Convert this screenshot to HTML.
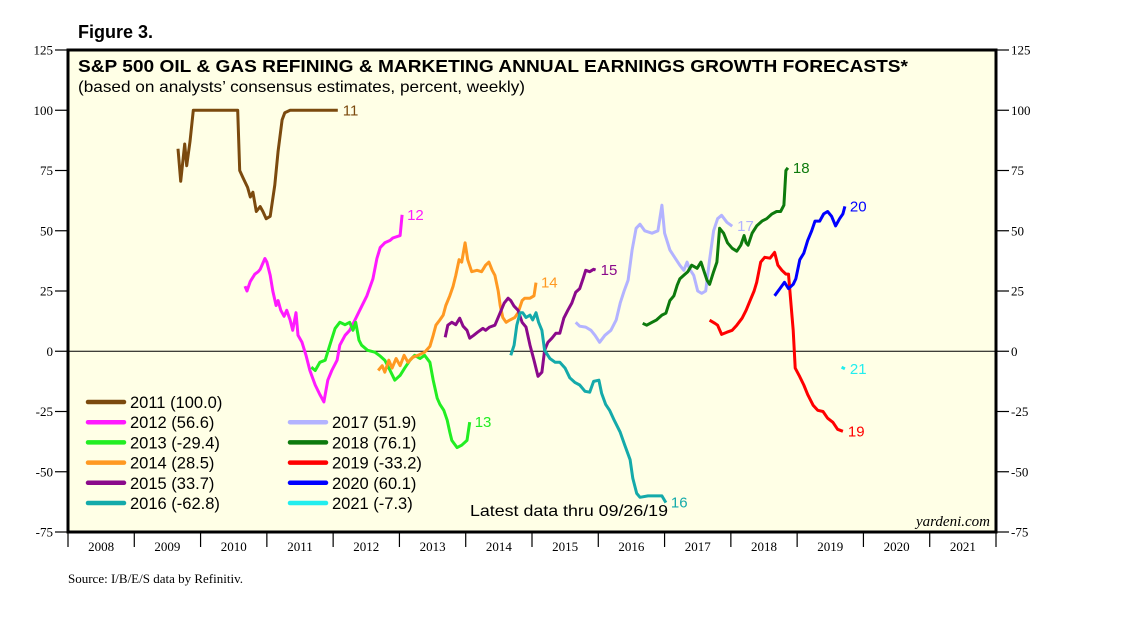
<!DOCTYPE html>
<html><head><meta charset="utf-8"><style>
body{margin:0;background:#fff;}
svg{display:block;font-family:"Liberation Sans",sans-serif;}
</style></head><body>
<svg id="c" width="1138" height="621" viewBox="0 0 1138 621">
<text x="78" y="38" font-size="18" font-weight="bold">Figure 3.</text>
<rect x="68" y="50" width="928" height="482" fill="#ffffe6" stroke="#000" stroke-width="3"/>
<text x="78" y="72" font-size="17.5" font-weight="bold" textLength="830" lengthAdjust="spacingAndGlyphs">S&amp;P 500 OIL &amp; GAS REFINING &amp; MARKETING ANNUAL EARNINGS GROWTH FORECASTS*</text>
<text x="78" y="92" font-size="16" textLength="447" lengthAdjust="spacingAndGlyphs">(based on analysts’ consensus estimates, percent, weekly)</text>
<g id="axes"></g>
<g id="series"></g>
<g id="legend"></g>
<text x="470" y="516" font-size="16" textLength="198" lengthAdjust="spacingAndGlyphs">Latest data thru 09/26/19</text>
<text x="990" y="526" font-size="15" font-style="italic" font-family="Liberation Serif,serif" text-anchor="end">yardeni.com</text>
<text x="68" y="583" font-size="13" font-family="Liberation Serif,serif">Source: I/B/E/S data by Refinitiv.</text>
</svg>
<script>
const yTicks=[125,100,75,50,25,0,-25,-50,-75];
const years=[2008,2009,2010,2011,2012,2013,2014,2015,2016,2017,2018,2019,2020,2021];
const names=["2011","2012","2013","2014","2015","2016","2017","2018","2019","2020","2021"];
const endLabels=["11","12","13","14","15","16","17","18","19","20","21"];
const finals=["100.0","56.6","-29.4","28.5","33.7","-62.8","51.9","76.1","-33.2","60.1","-7.3"];
const colors=["#7b4a0e","#ff1aff","#22ee22","#ff9922","#8b0a8b","#14aaaa","#b3b3ff","#0d7a0d","#ff0000","#0000ff","#22eeee"];
const t2011=[2009.66,2009.70,2009.76,2009.79,2009.84,2009.89,2010.56,2010.59,2010.64,2010.71,2010.75,2010.79,2010.84,2010.90,2010.94,2010.99,2011.05,2011.12,2011.17,2011.23,2011.27,2011.35,2012.07];
const v2011=[84,70.5,86,77,87,100,100,75,72,68,64,66,58,60,58,55,56,69,83,96,99,100,100];
const t2012=[2010.67,2010.70,2010.75,2010.82,2010.87,2010.90,2010.97,2011.00,2011.05,2011.09,2011.14,2011.17,2011.21,2011.26,2011.30,2011.35,2011.39,2011.44,2011.47,2011.53,2011.59,2011.65,2011.73,2011.80,2011.86,2011.92,2011.98,2012.06,2012.10,2012.18,2012.25,2012.33,2012.40,2012.51,2012.60,2012.66,2012.71,2012.78,2012.86,2012.90,2013.01,2013.04];
const v2012=[27,25,29,32,33,34,38.5,37,31.5,25,19,21,17,14.5,17,13,8.7,16,6.6,3.7,-1.7,-8,-14,-18,-21,-12,-8,-3.7,2.5,6.6,8.7,13,17,23,30,38.5,43,45,46,47,48,56.6];
const t2013=[2011.67,2011.73,2011.80,2011.88,2011.95,2012.03,2012.10,2012.18,2012.25,2012.30,2012.34,2012.39,2012.43,2012.52,2012.63,2012.71,2012.78,2012.86,2012.93,2013.01,2013.08,2013.16,2013.23,2013.31,2013.38,2013.46,2013.51,2013.57,2013.61,2013.67,2013.72,2013.76,2013.79,2013.87,2013.94,2014.02,2014.06];
const v2013=[-6.6,-8,-4.6,-3.7,2.5,9.5,12,11,12,8.7,12,4.6,2.5,0.4,-0.4,-2,-3.7,-8,-12,-10,-7,-3.7,-1.7,-3,-1.7,-4.6,-12,-19.5,-22,-24.5,-28.6,-33.6,-37,-40,-39,-37,-29.4];
const t2014=[2012.68,2012.74,2012.78,2012.84,2012.89,2012.95,2013.01,2013.07,2013.13,2013.20,2013.28,2013.38,2013.46,2013.51,2013.55,2013.61,2013.66,2013.70,2013.76,2013.81,2013.85,2013.90,2013.94,2013.99,2014.03,2014.09,2014.17,2014.24,2014.30,2014.35,2014.40,2014.44,2014.49,2014.52,2014.56,2014.61,2014.67,2014.74,2014.79,2014.85,2014.89,2014.97,2015.03,2015.06];
const v2014=[-8,-6,-8.7,-3.7,-7,-3,-6,-1.7,-4.6,-2.5,-1.7,-0.4,2,6.6,10.8,13,15,19,23,27,31.5,38,37,45,38,33,33.6,33,35.7,37,33.6,31.5,25,19,14,12,13,14,16,21,22,22,23,28.5];
const t2015=[2013.69,2013.73,2013.79,2013.85,2013.91,2013.96,2014.02,2014.06,2014.12,2014.18,2014.26,2014.30,2014.36,2014.44,2014.52,2014.58,2014.64,2014.68,2014.73,2014.79,2014.85,2014.91,2014.97,2015.03,2015.09,2015.15,2015.19,2015.24,2015.30,2015.36,2015.42,2015.48,2015.54,2015.60,2015.66,2015.72,2015.77,2015.81,2015.87,2015.93,2015.96];
const v2015=[5.8,10.8,12,11,13.7,10.4,8.7,5.4,6.6,7.9,9.5,8.7,10,10.8,16,20,22,21,18.7,17,12,10,2.5,-3.7,-10.4,-8.7,0.4,3.7,5.4,7.5,7.5,13.7,17,20,24.5,26,30,33.6,33,34,33.7];
const t2016=[2014.68,2014.73,2014.77,2014.82,2014.86,2014.91,2014.97,2015.01,2015.06,2015.10,2015.15,2015.19,2015.27,2015.35,2015.42,2015.50,2015.57,2015.65,2015.72,2015.80,2015.87,2015.93,2016.01,2016.05,2016.11,2016.17,2016.24,2016.33,2016.40,2016.48,2016.52,2016.58,2016.63,2016.75,2016.85,2016.96,2017.02];
const v2016=[-1.7,2.5,10.8,16,16,14,15,13,16,12,8.7,0.4,-3,-4.6,-4.6,-7,-11,-13,-14,-16.6,-17,-12.5,-12,-17.4,-22,-24.5,-28.6,-33.6,-39,-45,-52.7,-59,-60.6,-60,-60,-60,-62.8];
const t2017=[2015.66,2015.72,2015.81,2015.89,2015.95,2016.02,2016.10,2016.19,2016.27,2016.33,2016.39,2016.45,2016.51,2016.57,2016.63,2016.70,2016.81,2016.90,2016.96,2017.00,2017.08,2017.16,2017.23,2017.29,2017.34,2017.38,2017.44,2017.50,2017.56,2017.62,2017.68,2017.74,2017.80,2017.86,2017.94,2018.02];
const v2017=[12,10.4,10,8.7,6.6,3.7,6.6,8.7,13,20,25,29.5,42,51,52.7,50,49,50,60.6,49,42,38.6,35.7,33.6,37,34,31.5,25,24,25,38,50,55,56.4,53.5,51.9];
const t2018=[2016.67,2016.73,2016.81,2016.88,2016.96,2017.02,2017.08,2017.14,2017.19,2017.23,2017.29,2017.35,2017.41,2017.49,2017.55,2017.59,2017.64,2017.68,2017.74,2017.79,2017.83,2017.89,2017.95,2018.02,2018.09,2018.15,2018.20,2018.23,2018.26,2018.32,2018.39,2018.47,2018.54,2018.62,2018.69,2018.75,2018.80,2018.83,2018.86];
const v2018=[11.6,10.8,12,13,15,15.8,21,23,27.4,30,31.5,33,35.7,34.4,37,33.6,29.5,27.8,33,37,51,49,45,42.7,41.5,44,48,45,44,49,52,54,55,57,58,58,60.6,75,76.1];
const t2019=[2017.68,2017.76,2017.80,2017.86,2017.94,2018.02,2018.09,2018.17,2018.23,2018.29,2018.35,2018.39,2018.45,2018.51,2018.59,2018.66,2018.71,2018.77,2018.83,2018.87,2018.90,2018.94,2018.97,2019.03,2019.10,2019.16,2019.24,2019.31,2019.39,2019.46,2019.54,2019.61,2019.69];
const v2019=[12.9,11.6,10.8,7,7.9,8.7,10.8,13.7,17,21,25,28.6,37,39,38.6,41,35.7,33.6,32,32,22,8.7,-7,-10,-14,-18,-22.4,-24.5,-25,-27.8,-29.5,-32.4,-33.2];
const t2020=[2018.66,2018.74,2018.81,2018.87,2018.94,2018.98,2019.04,2019.10,2019.16,2019.22,2019.27,2019.34,2019.40,2019.46,2019.52,2019.58,2019.64,2019.69,2019.72];
const v2020=[23,26,28.6,26,27.8,30,38,40.7,46,50,54,54,57,58,56,52,55,57,60.1];
const t2021=[2019.67,2019.72];
const v2021=[-6.6,-7.3];
const T=[t2011,t2012,t2013,t2014,t2015,t2016,t2017,t2018,t2019,t2020,t2021];
const V=[v2011,v2012,v2013,v2014,v2015,v2016,v2017,v2018,v2019,v2020,v2021];

const NS="http://www.w3.org/2000/svg";
const X0=68,X1=996,Y0=50,Y1=532;
function xs(t){return X0+(t-2008)/14*(X1-X0);}
function ys(v){return Y1-(v+75)/200*(Y1-Y0);}
function mk(tag,attrs,parent){const e=document.createElementNS(NS,tag);for(const k in attrs)e.setAttribute(k,attrs[k]);parent.appendChild(e);return e;}
const ax=document.getElementById('axes');
yTicks.forEach(v=>{
  const y=ys(v);
  let e=mk('line',{x1:55,x2:X0,y1:y,y2:y,stroke:'#000','stroke-width':1.2},ax);
  
  
  e=mk('line',{x1:X1,x2:1009,y1:y,y2:y,stroke:'#000','stroke-width':1.2},ax);
  
  
  e=mk('text',{x:53,y:y+4.5,'text-anchor':'end','font-size':13,'font-family':'Liberation Serif,serif'},ax);
  e.textContent=v;
  
  
  e=mk('text',{x:1011,y:y+4.5,'font-size':13,'font-family':'Liberation Serif,serif'},ax);
  e.textContent=v;
  
  
});
let z=mk('line',{x1:X0,x2:X1,y1:ys(0),y2:ys(0),stroke:'#000','stroke-width':1},ax);


years.forEach((yr,i)=>{
  let e=mk('line',{x1:xs(yr),x2:xs(yr),y1:Y1,y2:547,stroke:'#000','stroke-width':1.2},ax);
  
  
  e=mk('text',{x:xs(yr+0.5),y:551,'text-anchor':'middle','font-size':13,'font-family':'Liberation Serif,serif'},ax);
  e.textContent=yr;
  
  
});
let e=mk('line',{x1:X1,x2:X1,y1:Y1,y2:547,stroke:'#000','stroke-width':1.2},ax);


const sg=document.getElementById('series');
T.forEach((ts,i)=>{
  const vs=V[i];
  const d=ts.map((t,j)=>(j?'L':'M')+xs(t).toFixed(1)+','+ys(vs[j]).toFixed(1)).join(' ');
  const p=mk('path',{d:d,fill:'none',stroke:colors[i],'stroke-width':3,'stroke-linejoin':'round'},sg);
  
  
  const lt=ts[ts.length-1],lv=vs[vs.length-1];
  const l=mk('text',{x:xs(lt)+5,y:ys(lv)+5,'font-size':15,fill:colors[i]},sg);
  l.textContent=endLabels[i];
  
  
});
const lg=document.getElementById('legend');
names.forEach((n,i)=>{
  const col=i<6?0:1;
  const row=i<6?i:i-5;
  const lx=col?290:88, ly=402+row*20.2;
  const g=mk('g',{},lg);
  
  
  mk('line',{x1:lx,x2:lx+36,y1:ly,y2:ly,stroke:colors[i],'stroke-width':4.5,'stroke-linecap':'round'},g);
  const t=mk('text',{x:lx+42,y:ly+6,'font-size':16.5},g);
  t.textContent=n+' ('+finals[i]+')';
});
</script>
</body></html>
